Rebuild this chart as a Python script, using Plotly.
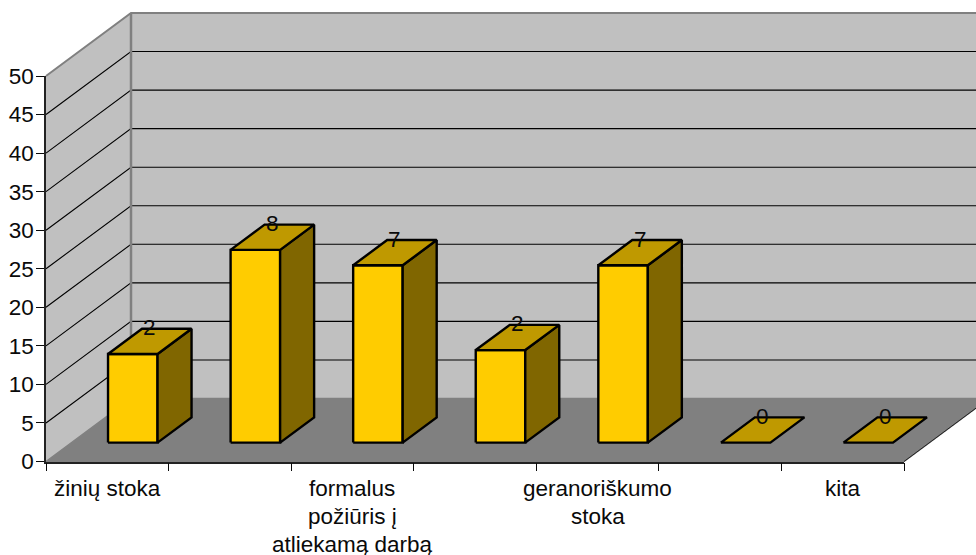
import plotly.graph_objects as go

# Survey results drawn as a 3-D style column chart on cartesian axes.
categories = ["žinių stoka", "", "formalus<br>požiūris į<br>atliekamą darbą", "", "geranoriškumo<br>stoka", "", "kita"]
bar_heights = [11.5, 25, 23, 12, 23, 0, 0]
bar_labels = ["2", "8", "7", "2", "7", "0", "0"]
y_ticks = [0, 5, 10, 15, 20, 25, 30, 35, 40, 45, 50]

# Page layout of the front plane, in pixels
WIDTH, HEIGHT = 976, 555
LEFT, RIGHT = 46, 904
BASE, CEIL = 461.5, 76

n = len(categories)
top = y_ticks[-1]
PX_PER_CAT = (RIGHT - LEFT) / n
PX_PER_UNIT = (BASE - CEIL) / top

# Oblique projection: how far the rear of the box shifts, in axis units.
DEPTH_X = 85 / PX_PER_CAT
DEPTH_Y = 63 / PX_PER_UNIT
BAR_WIDTH = 0.404
BAR_NEAR, BAR_FAR = 0.3, 0.7

WALL = "#c0c0c0"
FLOOR = "#808080"
EDGE = "#808080"
FRONT = "#ffcc00"
TOP = "#bf9900"
SIDE = "#806600"
INK = "#0a0a0a"
FONT = "Liberation Sans, Arial, sans-serif"
FONT_SIZE = 22.5


def project(x, value, depth):
    return x + depth * DEPTH_X, value + depth * DEPTH_Y


def polygon(corners, fill, line_color, line_width):
    points = [project(*c) for c in corners]
    points.append(points[0])
    return go.Scatter(
        x=[p[0] for p in points],
        y=[p[1] for p in points],
        mode="lines",
        fill="toself",
        fillcolor=fill,
        line=dict(color=line_color, width=line_width),
        hoverinfo="skip",
        showlegend=False,
    )


def wire(corners, color, width):
    points = [project(*c) for c in corners]
    return go.Scatter(
        x=[p[0] for p in points],
        y=[p[1] for p in points],
        mode="lines",
        line=dict(color=color, width=width),
        hoverinfo="skip",
        showlegend=False,
    )


fig = go.Figure()

# Side wall, back wall and floor
fig.add_trace(polygon([(0, 0, 0), (0, top, 0), (0, top, 1), (0, 0, 1)], WALL, WALL, 0))
fig.add_trace(polygon([(0, 0, 1), (0, top, 1), (n, top, 1), (n, 0, 1)], WALL, WALL, 0))
fig.add_trace(polygon([(0, 0, 0), (n, 0, 0), (n, 0, 1), (0, 0, 1)], FLOOR, FLOOR, 1.5))

# Gridlines run across both walls
for v in y_ticks[1:-1]:
    fig.add_trace(wire([(0, v, 0), (0, v, 1), (n, v, 1)], "#000000", 1.1))

# Wall outlines
fig.add_trace(wire([(0, top, 0), (0, top, 1), (n, top, 1)], EDGE, 2))
fig.add_trace(wire([(0, 0, 1), (0, top, 1)], EDGE, 2.5))
fig.add_trace(wire([(n, 0, 0), (n, 0, 1)], "#222222", 1))

# Columns, each built from its front, top and side faces
for i, h in enumerate(bar_heights):
    left = i + 0.5 - BAR_WIDTH / 2
    right = i + 0.5 + BAR_WIDTH / 2
    if h > 0:
        fig.add_trace(polygon([(left, 0, BAR_NEAR), (right, 0, BAR_NEAR), (right, h, BAR_NEAR), (left, h, BAR_NEAR)],
                              FRONT, "#000000", 2.4))
        fig.add_trace(polygon([(right, 0, BAR_NEAR), (right, 0, BAR_FAR), (right, h, BAR_FAR), (right, h, BAR_NEAR)],
                              SIDE, "#000000", 2.4))
    fig.add_trace(polygon([(left, h, BAR_NEAR), (right, h, BAR_NEAR), (right, h, BAR_FAR), (left, h, BAR_FAR)],
                          TOP, "#000000", 2.4))

# Value labels sit over the middle of each column's top face
for i, (h, text) in enumerate(zip(bar_heights, bar_labels)):
    x, y = project(i + 0.5, h, (BAR_NEAR + BAR_FAR) / 2)
    fig.add_annotation(
        x=x,
        y=y,
        text=text,
        showarrow=False,
        xanchor="center",
        yanchor="middle",
        yshift=13.5,
        font=dict(family=FONT, size=FONT_SIZE, color=INK),
    )

# Category labels, one annotation per line for the wide line spacing
for i, label in enumerate(categories):
    if not label:
        continue
    for j, line in enumerate(label.split("<br>")):
        fig.add_annotation(
            x=i + 0.5,
            y=0,
            text=line,
            showarrow=False,
            xanchor="center",
            yanchor="middle",
            yshift=-27 - 27.8 * j,
            font=dict(family=FONT, size=FONT_SIZE, color=INK),
        )

# Empty trace that brings up the visible axes along the front plane
fig.add_trace(go.Scatter(x=[0], y=[0], xaxis="x2", yaxis="y2", mode="markers",
                         marker=dict(opacity=0), hoverinfo="skip", showlegend=False))

fig.update_layout(
    width=WIDTH,
    height=HEIGHT,
    margin=dict(l=0, r=0, t=0, b=0, pad=0, autoexpand=False),
    paper_bgcolor="#ffffff",
    plot_bgcolor="rgba(0,0,0,0)",
    showlegend=False,
    # The drawing axes span the whole page so the box can reach past the front plane
    xaxis=dict(
        range=[-LEFT / PX_PER_CAT, (WIDTH - LEFT) / PX_PER_CAT],
        domain=[0, 1],
        visible=False,
        fixedrange=True,
    ),
    yaxis=dict(
        range=[(BASE - HEIGHT) / PX_PER_UNIT, BASE / PX_PER_UNIT],
        domain=[0, 1],
        visible=False,
        fixedrange=True,
    ),
    xaxis2=dict(
        domain=[LEFT / WIDTH, RIGHT / WIDTH],
        anchor="y2",
        range=[0, n],
        tickmode="array",
        tickvals=list(range(n + 1)),
        showticklabels=False,
        ticks="outside",
        ticklen=8,
        tickwidth=1,
        tickcolor=INK,
        showline=True,
        linecolor="#222222",
        linewidth=1.5,
        showgrid=False,
        zeroline=False,
        fixedrange=True,
    ),
    yaxis2=dict(
        domain=[(HEIGHT - BASE) / HEIGHT, (HEIGHT - CEIL) / HEIGHT],
        anchor="x2",
        range=[0, top],
        tickmode="array",
        tickvals=y_ticks,
        ticks="outside",
        ticklen=8,
        tickwidth=1,
        tickcolor=INK,
        tickfont=dict(family=FONT, size=FONT_SIZE, color=INK),
        ticklabelstandoff=-2,
        showline=True,
        linecolor="#222222",
        linewidth=1.5,
        showgrid=False,
        zeroline=False,
        fixedrange=True,
    ),
)

fig.write_html("out.html", config={"displayModeBar": False})
